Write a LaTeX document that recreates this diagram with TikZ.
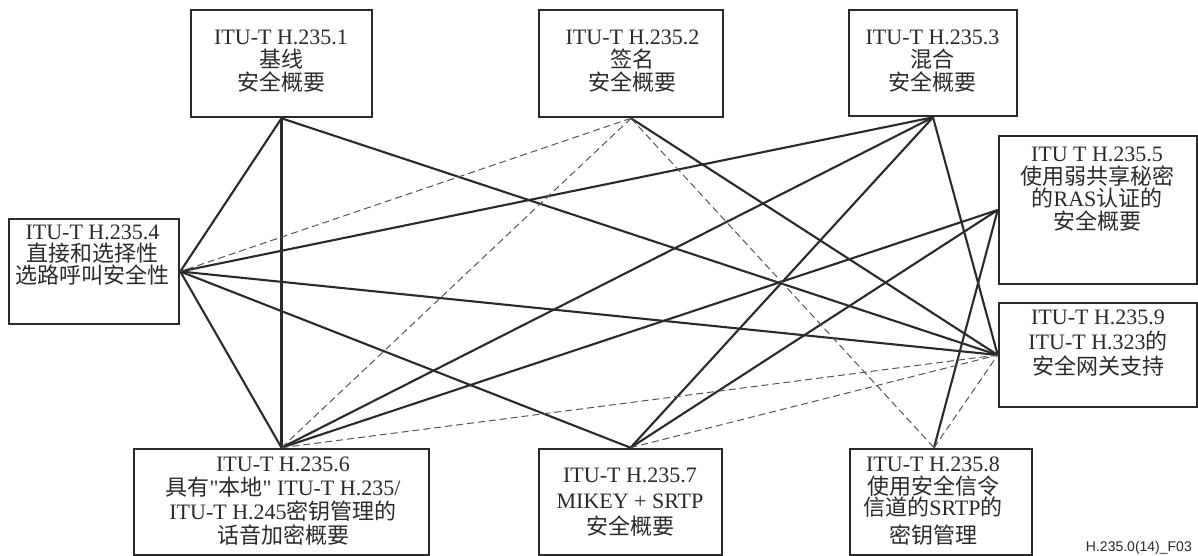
\documentclass[tikz,border=0pt]{standalone}
\usepackage{fontspec}
\setmainfont{Liberation Serif}[Ligatures=TeXOff]
\newfontfamily\cjk{Noto Sans CJK SC}
\newfontfamily\capfont{Liberation Sans}
\newcommand\zh[1]{{\cjk #1}}
\definecolor{ink}{HTML}{2A2A2A}
\definecolor{dashc}{HTML}{555555}
\tikzset{
  boxnode/.style={draw=ink, line width=2.6pt, inner sep=0pt},
  lbl/.style={align=center, inner sep=0pt, anchor=north, text=ink},
  link/.style={draw=ink, line width=2.1pt},
  dlink/.style={draw=dashc, line width=1pt, dash pattern=on 7pt off 4pt},
}
\newcommand\fs[1]{\fontsize{22}{#1}\selectfont\lineskiplimit=-50pt\relax}
\begin{document}
\begin{tikzpicture}[x=1pt,y=-1pt]
\useasboundingbox (0,0) rectangle (1198,556);
\fill[white] (0,0) rectangle (1198,556);
% boxes
\node[boxnode, minimum width=181pt, minimum height=107pt] (b1) at (281.5,63.5) {};
\node[boxnode, minimum width=184pt, minimum height=107pt] (b2) at (631,63.5) {};
\node[boxnode, minimum width=168pt, minimum height=106pt] (b3) at (933,63) {};
\node[boxnode, minimum width=170pt, minimum height=105pt] (b4) at (94,271.5) {};
\node[boxnode, minimum width=198pt, minimum height=148pt] (b5) at (1098,210) {};
\node[boxnode, minimum width=198pt, minimum height=104pt] (b9) at (1098,355) {};
\node[boxnode, minimum width=295pt, minimum height=106pt] (b6) at (281.5,502) {};
\node[boxnode, minimum width=183pt, minimum height=106pt] (b7) at (630.5,502) {};
\node[boxnode, minimum width=182pt, minimum height=106pt] (b8) at (941,502) {};
\coordinate (p8) at ([xshift=-7pt]b8.north);
% labels
\node[lbl, font=\fs{23}] (t1) at (281,30) {ITU-T H.235.1\\\zh{基线}\\\zh{安全概要}};
\node[lbl, font=\fs{23}] (t2) at (632.5,30) {ITU-T H.235.2\\\zh{签名}\\\zh{安全概要}};
\node[lbl, font=\fs{23}] (t3) at (932.5,30) {ITU-T H.235.3\\\zh{混合}\\\zh{安全概要}};
\node[lbl, font=\fs{22}] (t4) at (92.5,225) {ITU-T H.235.4\\\zh{直接和选择性}\\\zh{选路呼叫安全性}};
\node[lbl, font=\fs{22.5}] (t5) at (1097,147) {ITU T H.235.5\\\zh{使用弱共享秘密}\\\zh{的}RAS\zh{认证的}\\\zh{安全概要}};
\node[lbl, font=\fs{25}] (t9) at (1098,310) {ITU-T H.235.9\\ITU-T H.323\zh{的}\\\zh{安全网关支持}};
\node[lbl, font=\fs{24}] (t6) at (283,457) {ITU-T H.235.6\\\zh{具有}"\zh{本地}" ITU-T H.235/\\ITU-T H.245\zh{密钥管理的}\\\zh{话音加密概要}};
\node[lbl, font=\fs{26}] (t7) at (630,468) {ITU-T H.235.7\\MIKEY + SRTP\\\zh{安全概要}};
\node[lbl, font=\fs{23}] (t8) at (933,457) {ITU-T H.235.8\\\zh{使用安全信令}\\[-2pt]\zh{信道的}SRTP\zh{的}\\[5pt]\zh{密钥管理}};
\node[font=\capfont\fontsize{14}{15}\selectfont, anchor=base east, text=ink, inner sep=0pt] (cap) at (1192,551.5) {H.235.0(14)\_F03};
% solid connectors
\draw[link] (b1.south) -- (b4.east);
\draw[link] (b1.south) -- (b6.north);
\draw[link] (b1.south) -- (b9.west);
\draw[link] (b2.south) -- (b9.west);
\draw[link] (b3.south) -- (b4.east);
\draw[link] (b3.south) -- (b6.north);
\draw[link] (b3.south) -- (b7.north);
\draw[link] (b3.south) -- (b9.west);
\draw[link] (b4.east) -- (b9.west);
\draw[link] (b4.east) -- (b7.north);
\draw[link] (b4.east) -- (b6.north);
\draw[link] (b6.north) -- (b5.west);
\draw[link] (b7.north) -- (b5.west);
\draw[link] (p8) -- (b5.west);
% dashed connectors
\draw[dlink] (b2.south) -- (b4.east);
\draw[dlink] (b2.south) -- (b6.north);
\draw[dlink] (b2.south) -- (p8);
\draw[dlink] (b6.north) -- (b9.west);
\draw[dlink] (b7.north) -- (b9.west);
\draw[dlink] (p8) -- (b9.west);
\end{tikzpicture}
\end{document}
